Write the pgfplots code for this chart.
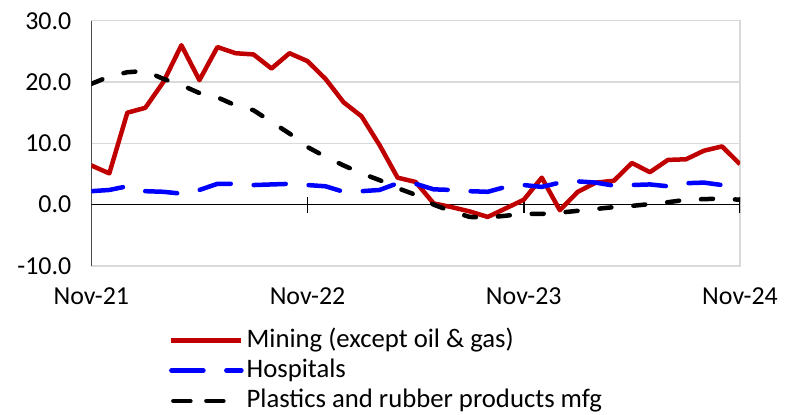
\documentclass[border=0pt]{standalone}
\usepackage{fontspec}
\setmainfont{Carlito}
\usepackage{pgfplots}
\pgfplotsset{compat=1.18}
\definecolor{minered}{HTML}{C00000}
\definecolor{gridgray}{HTML}{D9D9D9}
\pgfplotsset{blacklegend/.style={legend image code/.code={\draw[##1, dash pattern=on 17bp off 16bp] (2bp,0bp) -- (57bp,0bp);}}}
\begin{document}
\begin{tikzpicture}
\useasboundingbox (0bp,0bp) rectangle (792bp,415bp);
\begin{axis}[
  at={(91.3bp,149bp)}, anchor=south west,
  scale only axis, width=648.7bp, height=245.3bp,
  xmin=0, xmax=36, ymin=-10, ymax=30,
  xtick={0,12,24,36}, xticklabels={Nov-21,Nov-22,Nov-23,Nov-24},
  ytick={-10,0,10,20,30}, yticklabels={-10.0,0.0,10.0,20.0,30.0},
  major tick length=0pt,
  axis line style={draw=gridgray, line width=1.3bp},
  ymajorgrids, grid style={gridgray, line width=1.3bp},
  tick label style={font=\fontsize{26}{31}\selectfont},
  yticklabel style={xshift=-16.5bp},
  xticklabel style={yshift=-18bp},
  legend style={at={(0.120,-0.254)}, anchor=north west, draw=none, fill=none,
    font=\fontsize{26.8}{31}\selectfont, inner sep=0pt, outer sep=0pt,
    row sep=6.3bp, column sep=3bp,
    nodes={inner sep=0pt, text height=19bp, text depth=5bp},
    cells={anchor=west}},
  legend image code/.code={\draw[#1] (0bp,0bp) -- (70bp,0bp);},
]
\draw[black, line width=1.5bp] (axis cs:0,0) -- (axis cs:36,0);
\draw[black, line width=1.5bp] (axis cs:0,-10) -- (axis cs:0,30);
\draw[black, line width=1.5bp] (axis cs:12,0) ++(0bp,-8bp) -- ++(0bp,16bp);
\draw[black, line width=1.5bp] (axis cs:24,0) ++(0bp,-8bp) -- ++(0bp,16bp);
\draw[black, line width=1.5bp] (axis cs:36,0) ++(0bp,-8bp) -- ++(0bp,16bp);
\addplot[minered, line width=4.5bp, line join=round] table[row sep=\\] {
x y\\ 0 6.4\\ 1 5.1\\ 2 15.0\\ 3 15.8\\ 4 20.0\\ 5 26.0\\ 6 20.3\\ 7 25.7\\ 8 24.7\\ 9 24.5\\
10 22.2\\ 11 24.7\\ 12 23.4\\ 13 20.5\\ 14 16.7\\ 15 14.4\\ 16 9.7\\ 17 4.4\\ 18 3.7\\ 19 0.2\\
20 -0.4\\ 21 -1.1\\ 22 -2.0\\ 23 -0.6\\ 24 0.8\\ 25 4.4\\ 26 -0.9\\ 27 2.1\\ 28 3.6\\ 29 3.9\\
30 6.8\\ 31 5.3\\ 32 7.3\\ 33 7.4\\ 34 8.8\\ 35 9.5\\ 36 6.6\\
};
\addlegendentry{Mining (except oil \& gas)}
\addplot[blue, line width=4.5bp, line cap=round, line join=round, dash pattern=on 32bp off 23bp] table[row sep=\\] {
x y\\ 0 2.2\\ 1 2.4\\ 2 3.0\\ 3 2.2\\ 4 2.1\\ 5 1.8\\ 6 2.4\\ 7 3.4\\ 8 3.4\\ 9 3.2\\
10 3.3\\ 11 3.4\\ 12 3.2\\ 13 3.0\\ 14 2.1\\ 15 2.2\\ 16 2.4\\ 17 3.5\\ 18 3.4\\ 19 2.5\\
20 2.4\\ 21 2.2\\ 22 2.1\\ 23 2.9\\ 24 3.2\\ 25 2.9\\ 26 3.6\\ 27 3.8\\ 28 3.6\\ 29 3.1\\
30 3.2\\ 31 3.3\\ 32 3.0\\ 33 3.5\\ 34 3.6\\ 35 3.2\\ 36 3.1\\
};
\addlegendentry{Hospitals}
\addplot[black, line width=4.5bp, line cap=round, line join=round, dash pattern=on 12bp off 22bp, blacklegend] table[row sep=\\] {
x y\\ 0 19.7\\ 1 20.9\\ 2 21.6\\ 3 21.8\\ 4 20.5\\ 5 19.5\\ 6 18.2\\ 7 17.5\\ 8 16.2\\ 9 15.4\\
10 13.5\\ 11 11.6\\ 12 9.4\\ 13 7.8\\ 14 6.4\\ 15 5.1\\ 16 4.0\\ 17 2.7\\ 18 1.6\\ 19 0.0\\
20 -1.1\\ 21 -2.0\\ 22 -2.1\\ 23 -1.8\\ 24 -1.5\\ 25 -1.5\\ 26 -1.3\\ 27 -1.0\\ 28 -0.7\\ 29 -0.4\\
30 -0.2\\ 31 0.1\\ 32 0.4\\ 33 0.8\\ 34 0.9\\ 35 1.0\\ 36 0.8\\
};
\addlegendentry{Plastics and rubber products mfg}
\end{axis}
\end{tikzpicture}
\end{document}
